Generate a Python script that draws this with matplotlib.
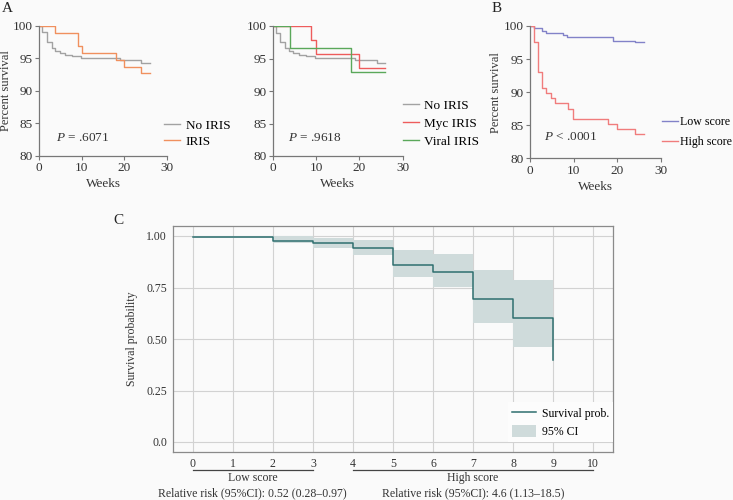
import matplotlib
matplotlib.use("Agg")
import matplotlib.pyplot as plt
import matplotlib.transforms as mtransforms

plt.rcParams['font.family'] = ['Liberation Serif', 'DejaVu Serif']
plt.rcParams['mathtext.fontset'] = 'custom'
plt.rcParams['mathtext.it'] = 'Liberation Serif:italic'
plt.rcParams['mathtext.rm'] = 'Liberation Serif'

# panel A / B data (weeks, percent survival)
no_iris_t = [0, 0.7, 1.8, 2.9, 3.8, 4.8, 6.0, 7.8, 9.8, 19.0, 24.0, 26.0]
no_iris_s = [100, 99.0, 97.6, 96.6, 96.1, 95.9, 95.6, 95.4, 95.1, 94.7, 94.3, 94.3]
iris_t = [0, 3.8, 9.0, 10.0, 18.0, 20.0, 24.0, 26.0]
iris_s = [100, 98.9, 96.9, 95.8, 94.8, 93.7, 92.7, 92.7]
myc_t = [0, 8.9, 10.0, 20.0, 26.0]
myc_s = [100, 97.8, 95.7, 93.5, 93.5]
viral_t = [0, 4.0, 18.0, 26.0]
viral_s = [100, 96.6, 93.0, 93.0]
low_t = [0, 0.8, 2.7, 3.7, 7.6, 8.5, 19.0, 24.0, 26.0]
low_s = [100, 99.7, 99.3, 98.9, 98.7, 98.4, 97.8, 97.6, 97.6]
high_t = [0, 0.8, 1.8, 2.8, 3.7, 4.7, 5.7, 8.8, 9.9, 17.9, 20.0, 24.0, 26.0]
high_s = [100, 97.6, 93.0, 90.6, 89.9, 89.1, 88.3, 87.4, 85.9, 85.2, 84.4, 83.6, 83.6]

# panel C data
c_t = [0, 2, 3, 4, 5, 6, 7, 8, 9]
c_s = [0.995, 0.978, 0.966, 0.940, 0.860, 0.826, 0.695, 0.600, 0.400]
c_lo = [0.990, 0.966, 0.940, 0.908, 0.799, 0.752, 0.579, 0.460]
c_hi = [1.000, 1.000, 0.990, 0.979, 0.930, 0.911, 0.833, 0.788]
c_ticks = list(range(11))

BG = '#fafafa'
SP = '#777777'
fig = plt.figure(figsize=(7.33, 5.0), dpi=100, facecolor=BG)


def km_axes(rect, ylabel):
    ax = fig.add_axes(rect, facecolor=BG)
    ax.set_xlim(0, 30)
    ax.set_ylim(80, 100)
    ax.set_xticks([0, 10, 20, 30])
    ax.set_yticks([80, 85, 90, 95, 100])
    for s in ['top', 'right']:
        ax.spines[s].set_visible(False)
    for s in ['left', 'bottom']:
        ax.spines[s].set_color(SP)
        ax.spines[s].set_linewidth(0.9)
    ax.tick_params(direction='out', length=3, width=0.8, color=SP, labelsize=9.5,
                   labelcolor='#333333', pad=1.5)
    ax.set_xlabel('Weeks', fontsize=9.5, color='#333333', labelpad=3)
    if ylabel:
        ax.set_ylabel('Percent survival', fontsize=9, color='#333333', labelpad=1)
    return ax


def ptext(ax, x, y, s):
    ax.text(x, y, s, transform=ax.transAxes, fontsize=9.5, va='center', color='#333333')


# A left
ax1 = km_axes([0.0536, 0.6886, 0.1742, 0.2594], True)
ax1.step(no_iris_t, no_iris_s, where='post', color='#a2a2a2', lw=1.0, label='No IRIS')
ax1.step(iris_t, iris_s, where='post', color='#f0905e', lw=1.0, label='IRIS')
ptext(ax1, 0.13, 0.136, '$P$ = .6071')
ax1.legend(loc='upper left', bbox_to_anchor=(0.98, 0.28), frameon=False, fontsize=9.5,
           handlelength=1.2, handletextpad=0.4, labelspacing=0.3, borderpad=0, borderaxespad=0)

# A right
ax2 = km_axes([0.372, 0.688, 0.1774, 0.26], False)
ax2.step(no_iris_t, no_iris_s, where='post', color='#a2a2a2', lw=1.0, label='No IRIS')
ax2.step(myc_t, myc_s, where='post', color='#ee5c5c', lw=1.0, label='Myc IRIS')
ax2.step(viral_t, viral_s, where='post', color='#5aa85a', lw=1.0, label='Viral IRIS')
ptext(ax2, 0.115, 0.138, '$P$ = .9618')
ax2.legend(loc='upper left', bbox_to_anchor=(1.0, 0.435), frameon=False, fontsize=9.5,
           handlelength=1.2, handletextpad=0.4, labelspacing=0.45, borderpad=0, borderaxespad=0)

# B
ax3 = km_axes([0.7231, 0.6834, 0.1787, 0.2646], True)
ax3.step(low_t, low_s, where='post', color='#8282c8', lw=1.0, label='Low score')
ax3.step(high_t, high_s, where='post', color='#f07c7c', lw=1.0, label='High score')
ptext(ax3, 0.107, 0.161, '$P$ < .0001')
ax3.legend(loc='upper left', bbox_to_anchor=(1.01, 0.32), frameon=False, fontsize=8.6,
           handlelength=1.3, handletextpad=0.2, labelspacing=0.7, borderpad=0, borderaxespad=0)

# C
ax4 = fig.add_axes([0.2356, 0.0954, 0.6011, 0.4532], facecolor=BG)
ax4.set_xlim(-0.5, 10.5)
ax4.set_ylim(-0.05, 1.05)
ax4.set_xticks(c_ticks)
ax4.set_yticks([0.0, 0.25, 0.5, 0.75, 1.0])
ax4.set_yticklabels(['0.0', '0.25', '0.50', '0.75', '1.00'])
ax4.grid(True, color='#d2d2d2', lw=0.8)
ax4.set_axisbelow(True)
for s in ax4.spines.values():
    s.set_color('#8a8a8a')
    s.set_linewidth(0.9)
ax4.tick_params(length=0, labelsize=8.5, labelcolor='#333333', pad=4)
ax4.set_ylabel('Survival probability', fontsize=8.5, color='#333333', labelpad=6)
ax4.fill_between(c_t, c_lo + [c_lo[-1]], c_hi + [c_hi[-1]], step='post',
                 color='#cfdbdb', lw=0, label='95% CI')
ax4.step(c_t, c_s, where='post', color='#2f6f6f', lw=1.1, label='Survival prob.')
h, l = ax4.get_legend_handles_labels()
leg = ax4.legend(h[::-1], l[::-1], loc='lower right', bbox_to_anchor=(1.0, 0.045),
                 fontsize=8.5, frameon=True,
                 facecolor='#fcfcfc', edgecolor='none', framealpha=1, fancybox=False,
                 handlelength=2.0, handleheight=1.3, handletextpad=0.5, labelspacing=0.4,
                 borderpad=0.35, borderaxespad=0)

tr = mtransforms.blended_transform_factory(ax4.transData, ax4.transAxes)
ax4.plot([0, 3], [-0.079, -0.079], transform=tr, clip_on=False, color='#444444', lw=0.9)
ax4.plot([4, 10], [-0.079, -0.079], transform=tr, clip_on=False, color='#444444', lw=0.9)
ax4.text(1.5, -0.113, 'Low score', transform=tr, ha='center', va='center', fontsize=8.5, color='#333333')
ax4.text(1.5, -0.18, 'Relative risk (95%CI): 0.52 (0.28–0.97)', transform=tr, ha='center',
         va='center', fontsize=8.5, color='#333333')
ax4.text(7.0, -0.113, 'High score', transform=tr, ha='center', va='center', fontsize=8.5, color='#333333')
ax4.text(7.0, -0.18, 'Relative risk (95%CI): 4.6 (1.13–18.5)', transform=tr, ha='center',
         va='center', fontsize=8.5, color='#333333')

# panel letters
fig.text(7 / 733, 1 - 9 / 500, 'A', fontsize=11, ha='center', va='center', color='#222222')
fig.text(497 / 733, 1 - 9 / 500, 'B', fontsize=11, ha='center', va='center', color='#222222')
fig.text(118 / 733, 1 - 220 / 500, 'C', fontsize=11, ha='center', va='center', color='#222222')

fig.savefig('out.png', dpi=100, facecolor=BG)
